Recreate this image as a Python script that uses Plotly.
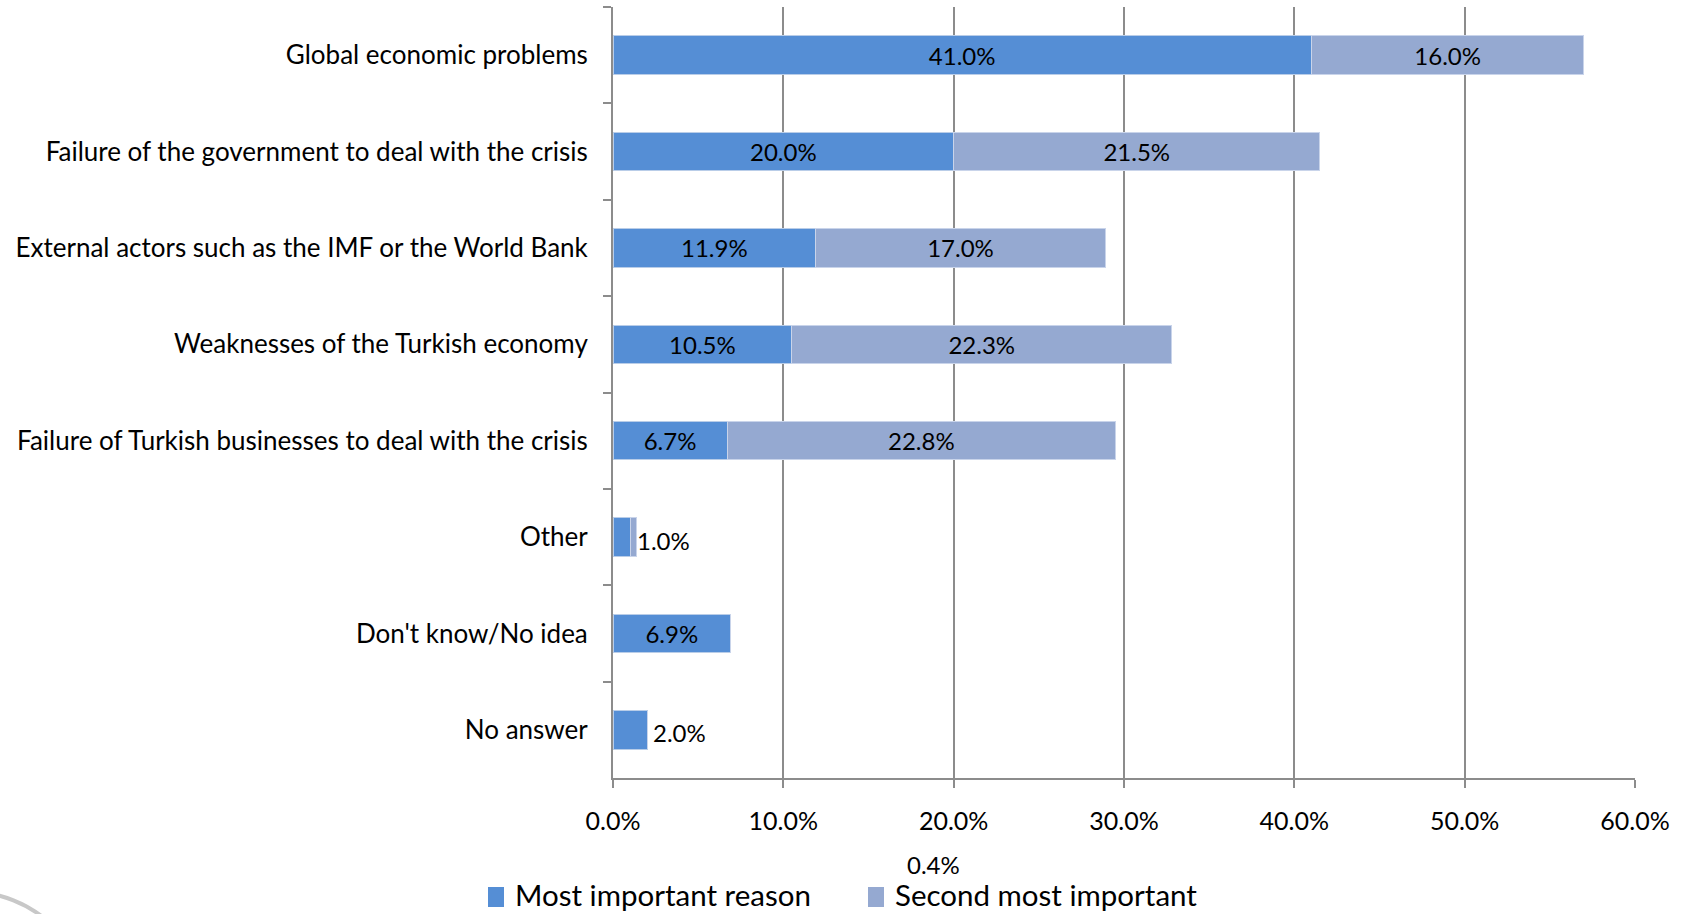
import plotly.graph_objects as go

categories = [
    "Global economic problems",
    "Failure of the government to deal with the crisis",
    "External actors such as the IMF or the World Bank",
    "Weaknesses of the Turkish economy",
    "Failure of Turkish businesses to deal with the crisis",
    "Other",
    "Don't know/No idea",
    "No answer",
]
most_important = [41.0, 20.0, 11.9, 10.5, 6.7, 1.0, 6.9, 2.0]
second_important = [16.0, 21.5, 17.0, 22.3, 22.8, 0.4, 0.0, 0.0]
series_names = ["Most important reason", "Second most important"]
x_ticks = [0, 10, 20, 30, 40, 50, 60]

FONT = "Lato"
BLUE = "#558ED5"
LIGHT = "#95A9D1"
colors = [BLUE, LIGHT]

# plot-area geometry in pixels (used to convert legend positions to paper coords)
L, R, T, B = 613, 1635, 7, 778
W, H = R - L, B - T


def px(x):
    return (x - L) / W


def py(y):
    return (B - y) / H


pos1 = ["inside" if v >= 5 else "none" for v in most_important]
pos2 = ["inside" if v >= 5 else "none" for v in second_important]
txt1 = [f"{v:.1f}%" for v in most_important]
txt2 = [f"{v:.1f}%" for v in second_important]

fig = go.Figure()
fig.add_trace(go.Bar(
    y=categories, x=most_important, orientation="h", name=series_names[0],
    marker=dict(color=BLUE, line=dict(color="#B9CDE8", width=1)),
    text=txt1, textposition=pos1, insidetextanchor="middle",
    textfont=dict(family=FONT, size=24, color="black"),
    width=0.4, hoverinfo="x+y", showlegend=False,
))
fig.add_trace(go.Bar(
    y=categories, x=second_important, orientation="h", name=series_names[1],
    marker=dict(color=LIGHT, line=dict(color="#C9D4EA", width=1)),
    text=txt2, textposition=pos2, insidetextanchor="middle",
    textfont=dict(family=FONT, size=24, color="black"),
    width=0.4, hoverinfo="x+y", showlegend=False,
))

annotations = []
for cat, a, b in zip(categories, most_important, second_important):
    if a < 5:
        annotations.append(dict(
            x=a + b, y=cat, xref="x", yref="y", text=f"{a:.1f}%", showarrow=False,
            xanchor="left", yanchor="middle", xshift=(4 if b == 0 else -2), yshift=-3,
            font=dict(family=FONT, size=24, color="black"),
        ))
    if 0 < b < 5:
        annotations.append(dict(
            x=18.8, y=py(864), xref="x", yref="paper", text=f"{b:.1f}%", showarrow=False,
            xanchor="center", yanchor="middle",
            font=dict(family=FONT, size=24, color="black"),
        ))

# manual legend (larger swatches, like the original)
shapes = []
legend_pos = [(488, 513), (868, 893)]
for (sx, tx), name, col in zip(legend_pos, series_names, colors):
    shapes.append(dict(
        type="rect", xref="paper", yref="paper",
        x0=px(sx), x1=px(sx + 16), y0=py(887), y1=py(907),
        fillcolor=col, line=dict(width=0), layer="above",
    ))
    annotations.append(dict(
        x=px(tx), y=py(895), xref="paper", yref="paper", text=name, showarrow=False,
        xanchor="left", yanchor="middle",
        font=dict(family=FONT, size=29.5, color="black"),
    ))

# faint watermark arc in the lower-left corner
shapes.append(dict(
    type="circle", xref="paper", yref="paper",
    x0=px(-148), x1=px(88), y0=py(892), y1=py(1128),
    line=dict(color="#C8C8C8", width=4), layer="above",
))

fig.update_layout(
    barmode="stack",
    width=1682, height=914,
    margin=dict(l=L, r=1682 - R, t=T, b=914 - B, autoexpand=False),
    plot_bgcolor="white", paper_bgcolor="white",
    font=dict(family=FONT, size=24, color="black"),
    bargap=0.6,
    showlegend=False,
    xaxis=dict(
        range=[0, 60], tickvals=x_ticks, ticktext=[f"{v:.1f}%" for v in x_ticks],
        showgrid=True, gridcolor="#8C8C8C", gridwidth=2,
        showline=True, linecolor="#8C8C8C", linewidth=2,
        ticks="outside", ticklen=8, tickwidth=2, tickcolor="#8C8C8C",
        zeroline=False, ticklabelstandoff=12,
        tickfont=dict(family=FONT, size=25, color="black"),
    ),
    yaxis=dict(
        categoryorder="array", categoryarray=categories, autorange="reversed",
        showline=True, linecolor="#8C8C8C", linewidth=2,
        ticks="outside", ticklen=8, tickwidth=2, tickcolor="#8C8C8C",
        tickson="boundaries", showgrid=False, ticklabelstandoff=18,
        tickfont=dict(family=FONT, size=26, color="black"),
    ),
    annotations=annotations,
    shapes=shapes,
)

fig.write_html(
    "out.html",
    config={"displayModeBar": False},
    post_script="document.body.style.margin='0';document.body.style.overflow='hidden';",
)
